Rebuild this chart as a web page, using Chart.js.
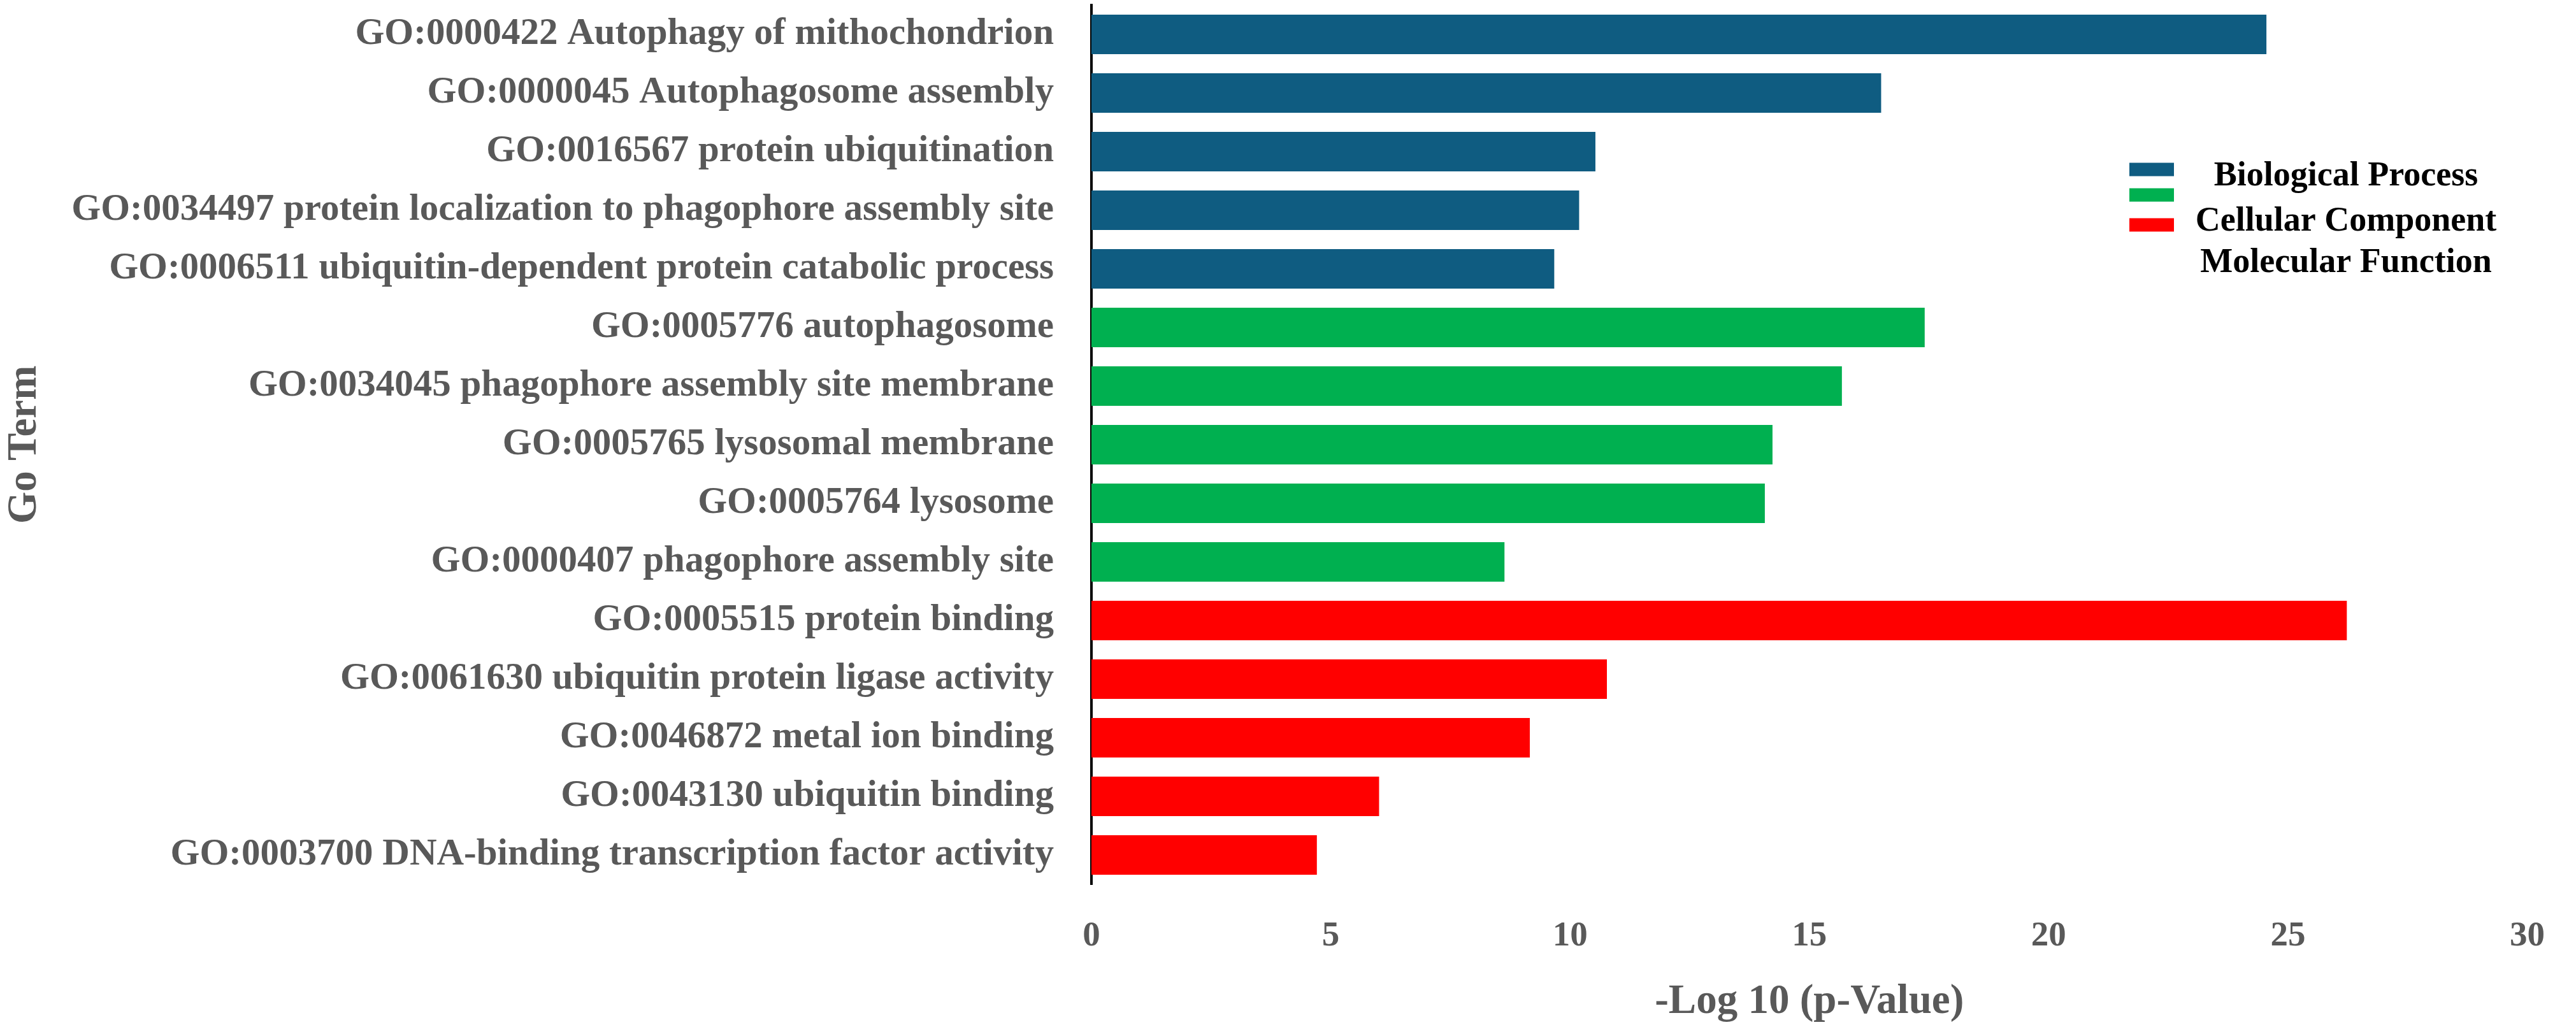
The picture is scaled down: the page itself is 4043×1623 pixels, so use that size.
<!DOCTYPE html>
<html>
<head>
<meta charset="utf-8">
<script src="https://cdn.jsdelivr.net/npm/chart.js@4.4.1/dist/chart.umd.min.js"></script>
<style>
  html, body { margin: 0; padding: 0; background: #fff; }
  #wrap { width: 4043px; height: 1623px; position: relative; }
</style>
</head>
<body>
<div id="wrap"><canvas id="goChart"></canvas></div>
<script>
// GO terms, top to bottom
const goTerms = [
    'GO:0000422 Autophagy of mithochondrion',
    'GO:0000045 Autophagosome assembly',
    'GO:0016567 protein ubiquitination',
    'GO:0034497 protein localization to phagophore assembly site',
    'GO:0006511 ubiquitin-dependent protein catabolic process',
    'GO:0005776 autophagosome',
    'GO:0034045 phagophore assembly site membrane',
    'GO:0005765 lysosomal membrane',
    'GO:0005764 lysosome',
    'GO:0000407 phagophore assembly site',
    'GO:0005515 protein binding',
    'GO:0061630 ubiquitin protein ligase activity',
    'GO:0046872 metal ion binding',
    'GO:0043130 ubiquitin binding',
    'GO:0003700 DNA-binding transcription factor activity'
];

// -log10(p) per group (null = row belongs to another group)
const biologicalProcess = [24.55, 16.5, 10.53, 10.19, 9.67, null, null, null, null, null, null, null, null, null, null];
const cellularComponent = [null, null, null, null, null, 17.41, 15.68, 14.23, 14.07, 8.63, null, null, null, null, null];
const molecularFunction = [null, null, null, null, null, null, null, null, null, null, 26.23, 10.77, 9.16, 6.01, 4.71];

const groupNames = ['Biological Process', 'Cellular Component', 'Molecular Function'];
const groupColors = ['#0F5C81', '#00B050', '#FF0000'];

const xTicks = [0, 5, 10, 15, 20, 25, 30];

const FONT = 'Liberation Serif';
const GREY = '#595959';

// legend drawn like the original (boxes and labels not lined up)
const legendPlugin = {
    id: 'goLegend',
    afterDraw(chart, args, opts) {
        const ctx = chart.ctx;
        ctx.save();
        chart.data.datasets.forEach((ds, i) => {
            ctx.fillStyle = ds.backgroundColor;
            ctx.fillRect(opts.boxX, opts.boxY[i] - opts.boxH / 2, opts.boxW, opts.boxH);
        });
        ctx.fillStyle = '#000';
        ctx.font = 'bold ' + opts.fontSize + 'px "' + FONT + '"';
        ctx.textAlign = 'center';
        ctx.textBaseline = 'middle';
        chart.data.datasets.forEach((ds, i) => {
            ctx.fillText(ds.label, opts.textX, opts.textY[i]);
        });
        ctx.restore();
    }
};

const ctx = document.getElementById('goChart').getContext('2d');
new Chart(ctx, {
    type: 'bar',
    data: {
        labels: goTerms,
        datasets: [
            { label: groupNames[0], data: biologicalProcess, backgroundColor: groupColors[0] },
            { label: groupNames[1], data: cellularComponent, backgroundColor: groupColors[1] },
            { label: groupNames[2], data: molecularFunction, backgroundColor: groupColors[2] }
        ]
    },
    options: {
        indexAxis: 'y',
        responsive: true,
        maintainAspectRatio: false,
        devicePixelRatio: 1,
        animation: false,
        layout: { padding: { top: 8, right: 40, bottom: 0, left: 0 } },
        datasets: {
            bar: { grouped: false, categoryPercentage: 0.9, barPercentage: 0.75, borderWidth: 0 }
        },
        plugins: {
            legend: { display: false },
            tooltip: { enabled: false },
            goLegend: {
                boxX: 3342, boxW: 70, boxH: 21,
                boxY: [266, 306, 353],
                textX: 3682, textY: [277, 348, 413],
                fontSize: 54
            }
        },
        scales: {
            x: {
                min: 0,
                max: 30,
                afterBuildTicks: s => { s.ticks = xTicks.map(v => ({ value: v })); },
                afterFit: s => { s.height = 235; },
                grid: { display: false, drawTicks: false },
                border: { display: false },
                ticks: {
                    color: GREY,
                    padding: 49,
                    font: { family: FONT, size: 55, weight: 'bold' }
                },
                title: {
                    display: true,
                    text: '-Log 10 (p-Value)',
                    color: GREY,
                    padding: { top: 0, bottom: 11 },
                    font: { family: FONT, size: 65, weight: 'bold' }
                }
            },
            y: {
                afterFit: s => {
                    s.width = 1713;
                    // keep the label padding from pushing the plot area down
                    s.paddingTop = 0;
                    s.paddingBottom = 0;
                },
                grid: { display: false, drawTicks: false },
                border: { display: true, color: '#000', width: 4 },
                ticks: {
                    autoSkip: false,
                    color: GREY,
                    padding: 59,
                    font: { family: FONT, size: 59, weight: 'bold' }
                },
                title: {
                    display: true,
                    text: 'Go Term',
                    color: GREY,
                    padding: { top: 0, bottom: 0 },
                    font: { family: FONT, size: 65, weight: 'bold' }
                }
            }
        }
    },
    plugins: [legendPlugin]
});
</script>
</body>
</html>
